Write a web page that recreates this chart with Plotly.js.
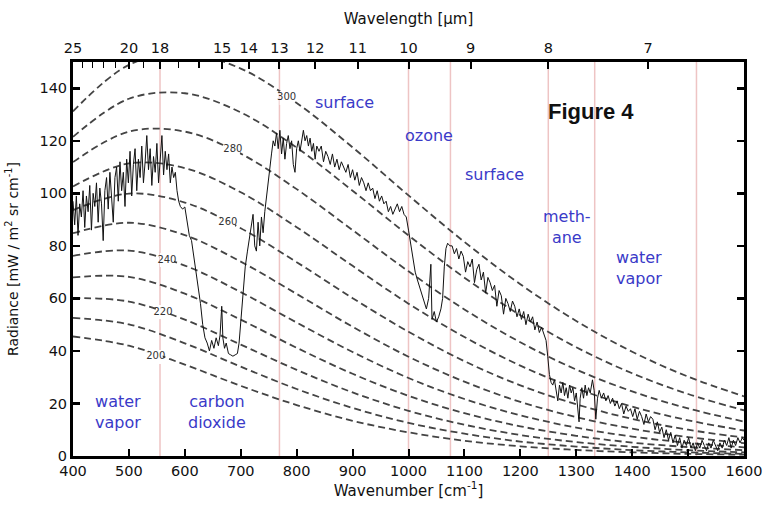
<!DOCTYPE html>
<html>
<head>
<meta charset="utf-8">
<script src="https://cdn.plot.ly/plotly-3.0.1.min.js"></script>
<style>html,body{margin:0;padding:0;background:#fff;}#chart{width:763px;height:516px;}</style>
</head>
<body>
<div id="chart"></div>
<script>
// ---- Planck (blackbody) reference curves ----
var planckWn = [400, 500, 600, 700, 800, 900, 1000, 1100, 1200, 1300, 1400, 1500, 1600];
var b300 = [131.2, 148.9, 153.4, 147.5, 134.4, 117.5, 99.2, 81.5, 65.4, 51.4, 39.7, 30.2, 22.7];
var b290 = [121.5, 136.0, 138.1, 130.8, 117.4, 101.0, 84.0, 67.9, 53.6, 41.4, 31.5, 23.6, 17.4];
var b280 = [111.9, 123.5, 123.5, 115.1, 101.6, 86.0, 70.3, 55.8, 43.3, 32.9, 24.6, 18.1, 13.1];
var b270 = [102.6, 111.4, 109.6, 100.4, 87.1, 72.4, 58.0, 45.3, 34.4, 25.7, 18.8, 13.6, 9.7];
var b260 = [93.6, 99.9, 96.5, 86.7, 73.8, 60.1, 47.3, 36.1, 26.9, 19.7, 14.1, 10.0, 7.0];
var b250 = [84.8, 88.8, 84.1, 74.0, 61.7, 49.2, 37.8, 28.3, 20.6, 14.8, 10.4, 7.2, 4.9];
var b240 = [76.2, 78.2, 72.5, 62.4, 50.8, 39.6, 29.7, 21.7, 15.5, 10.8, 7.4, 5.0, 3.3];
var b230 = [68.0, 68.2, 61.8, 51.9, 41.2, 31.3, 22.9, 16.3, 11.3, 7.7, 5.1, 3.4, 2.2];
var b220 = [60.1, 58.8, 51.9, 42.4, 32.8, 24.2, 17.2, 11.9, 8.0, 5.3, 3.5, 2.2, 1.4];
var b210 = [52.6, 50.1, 42.9, 34.0, 25.5, 18.3, 12.6, 8.5, 5.5, 3.6, 2.2, 1.4, 0.8];
var b200 = [45.5, 42.0, 34.8, 26.7, 19.4, 13.4, 9.0, 5.8, 3.7, 2.3, 1.4, 0.8, 0.5];
var planckCurves = [b200, b210, b220, b230, b240, b250, b260, b270, b280, b290, b300];

// temperature labels on curves
var tempLabels = ["300", "280", "260", "240", "220", "200"];
var tempLabelWn = [782, 686, 677, 568, 561, 548];
var tempLabelVal = [136.3, 116.5, 89, 74.6, 54.8, 37.7];

// ---- measured spectrum ----
var specWn = [400,403,406,409,412,415,418,421,424,427,430,433,436,439,442,445,448,451,454,457,460,463,466,469,472,475,478,481,484,487,490,493,496,499,502,505,508,511,514,517,520,523,526,529,532,535,538,541,544,547,550,553,556,559,562,565,568,571,574,577,580,583,586,589,592,596,600,604,608,612,616,620,624,628,632,636,640,644,648,652,656,660,663,666,668,671,674,678,682,686,690,694,697,700,704,708,712,716,719,722,725,728,731,734,737,740,743,746,749,752,755,758,761,764,767,770,773,776,779,782,785,788,791,794,797,800,803,806,809,812,815,818,821,824,827,830,833,836,840,844,848,852,856,860,864,868,872,876,880,884,888,892,896,900,904,908,912,916,920,924,928,932,936,940,944,948,952,956,960,964,968,972,976,980,984,988,992,996,1000,1004,1008,1012,1016,1020,1024,1028,1032,1036,1040,1042,1046,1050,1054,1058,1061,1064,1067,1070,1074,1078,1082,1086,1090,1094,1098,1102,1106,1110,1114,1118,1122,1126,1130,1134,1138,1142,1146,1150,1154,1158,1162,1166,1170,1174,1178,1182,1186,1190,1194,1198,1202,1206,1210,1214,1218,1222,1226,1230,1234,1238,1242,1246,1249,1252,1255,1258,1261,1264,1267,1270,1273,1276,1279,1282,1285,1288,1291,1294,1297,1300,1303,1305,1307,1310,1313,1316,1319,1322,1325,1329,1332,1335,1338,1341,1345,1349,1353,1357,1361,1365,1369,1373,1377,1381,1385,1389,1393,1397,1401,1405,1409,1413,1417,1421,1425,1429,1433,1437,1441,1445,1449,1453,1457,1461,1465,1469,1473,1477,1481,1485,1489,1493,1497,1501,1505,1509,1513,1517,1521,1525,1529,1533,1537,1541,1545,1549,1553,1557,1561,1565,1569,1573,1577,1581,1585,1589,1593,1597,1600];
var specVal = [97,88,99,84,96,91,101,87,99,93,103,86,100,95,104,89,102,96,82,101,106,94,108,99,89,106,110,97,112,101,108,95,113,104,116,99,111,117,101,113,106,118,104,112,122,109,117,103,114,108,119,104,113,122,107,116,109,115,104,110,106,108,101,97,95,94,94.8,90,84,82,76,70,63,58,50,45,43,40,44,41,45,42,46,57,45,41,43,39,38.5,38,38.5,39,43,52,62,72,78,84,88,92,80,78,89,80,91,85,93,99,104,109,115,120,118,123,117,124,115,121,113,119,122,117,120,111,108,117,120,116,121,124,120,122,118,121,116,119,113,118,116,118,112,116,114,111,115,110,113,109,112,110,108,111,106,109,105,108,103,106,104,101,104,101,102,98,101,97,99,96,97,93,95,92,94,96,93,95,92,91,86,80,74,70,67,64,62,58,56,60,73,52,55,51,53,56,60,72,79,81,80,80,77,79,75,78,76,70,74,72,75,66,71,73,67,70,62,68,66,63,65,57,63,61,54,60,58,55,59,57,53,56,52,55,50,54,51,53,48,51,47,49,46,44,38,31,28,27,29,25,21,27,24,28,23,26,22,27,24,26,21,24,18,13,22,26,22,27,23,26,24,29,25,14,22,25,22,24,21,23,20,22,19,21,18,20,16,19,17,18,15,18,14,17,15,12,16,13,15,14,10,13,9,11,7,10,6,9,5,8,4,7,3,6,4,7,3,5,2,5,3,6,4,2,5,3,6,4,2,5,3,6,4,7,3,6,4,7,5,7,6];

// ---- absorption band edges (pink vertical lines) ----
var bandEdges = [555.6, 769.2, 1000, 1075, 1250, 1333, 1515];

// ---- axes ticks ----
var bottomTicks = [400, 500, 600, 700, 800, 900, 1000, 1100, 1200, 1300, 1400, 1500, 1600];
var yTicks = [0, 20, 40, 60, 80, 100, 120, 140];
var wavelengthLabels = [25, 20, 18, 15, 14, 13, 12, 11, 10, 9, 8, 7];
var wavelengthMinor = [24, 23, 22, 21, 19, 17, 16];

// ---- region labels ----
var regionText = ["surface", "ozone", "surface", "meth-<br>ane", "water<br>vapor", "water<br>vapor", "carbon<br>dioxide"];
var regionWn = [886, 1037, 1154, 1284, 1412, 480, 657];
var regionVal = [134.4, 122.2, 107.3, 87.2, 71.6, 16.7, 16.7];

var FONT = 'DejaVu Sans, Verdana, sans-serif';
var toWn = function (l) { return 10000 / l; };

var traces = [];
planckCurves.forEach(function (c) {
  traces.push({
    x: planckWn, y: c, type: 'scatter', mode: 'lines',
    line: {color: '#444', width: 1.8, dash: '7px,4px', shape: 'spline', smoothing: 1},
    hoverinfo: 'skip', showlegend: false
  });
});
traces.push({
  x: specWn, y: specVal, type: 'scatter', mode: 'lines',
  line: {color: '#111', width: 1}, showlegend: false
});
// temperature labels drawn as a text trace (white halo breaks the dashes like the original)
traces.push({
  x: tempLabelWn, y: tempLabelVal, type: 'scatter', mode: 'markers+text',
  text: tempLabels, textposition: 'middle center',
  textfont: {size: 10, color: '#333', family: FONT},
  marker: {symbol: 'square', size: 14, color: '#fff', line: {width: 0}},
  hoverinfo: 'skip', showlegend: false
});
// helper trace to attach the top (wavelength) axis
traces.push({
  x: [bottomTicks[0], bottomTicks[bottomTicks.length - 1]], y: [0, 0],
  xaxis: 'x2', type: 'scatter', mode: 'lines', line: {width: 0, color: 'rgba(0,0,0,0)'},
  hoverinfo: 'skip', showlegend: false
});

var shapes = bandEdges.map(function (w) {
  return {type: 'line', xref: 'x', yref: 'paper', x0: w, x1: w, y0: 0, y1: 1,
    line: {color: '#eec4c4', width: 1.5}, layer: 'below'};
});

var annotations = [];
regionText.forEach(function (t, i) {
  annotations.push({x: regionWn[i], y: regionVal[i], xref: 'x', yref: 'y', text: t,
    showarrow: false, font: {size: 16, color: '#3a3ac8', family: FONT}});
});
annotations.push({x: 1327, y: 131, xref: 'x', yref: 'y', text: '<b>Figure 4</b>', showarrow: false,
  font: {size: 22, color: '#111', family: 'Liberation Sans, Arial, sans-serif'}});

var layout = {
  width: 763, height: 516,
  margin: {l: 73, r: 19, t: 62, b: 60},
  paper_bgcolor: '#fff', plot_bgcolor: '#fff',
  font: {family: FONT, size: 14, color: '#111'},
  showlegend: false,
  xaxis: {
    range: [400, 1600], tickvals: bottomTicks, ticks: 'inside', ticklen: 7, tickwidth: 2,
    tickcolor: '#000', showline: true, linecolor: '#000', linewidth: 3, mirror: true,
    showgrid: false, zeroline: false, tickfont: {size: 14.5, family: FONT},
    title: {text: 'Wavenumber [cm<sup>-1</sup>]', font: {size: 15, family: FONT}, standoff: 5}
  },
  xaxis2: {
    overlaying: 'x', side: 'top', range: [400, 1600],
    tickmode: 'array', tickvals: wavelengthLabels.map(toWn), ticktext: wavelengthLabels.map(String),
    ticks: 'inside', ticklen: 7, tickwidth: 2, tickcolor: '#000',
    minor: {tickmode: 'array', tickvals: wavelengthMinor.map(toWn), ticks: 'inside', ticklen: 6, tickwidth: 1.5, tickcolor: '#000', showgrid: false},
    showline: true, linecolor: '#000', linewidth: 3, showgrid: false, zeroline: false,
    tickfont: {size: 14.5, family: FONT},
    title: {text: 'Wavelength [\u03bcm]', font: {size: 15, family: FONT}, standoff: 12}
  },
  yaxis: {
    range: [0, 150], tickvals: yTicks, ticks: 'inside', ticklen: 7, tickwidth: 2.5,
    tickcolor: '#000', showline: true, linecolor: '#000', linewidth: 3, mirror: 'ticks',
    showgrid: false, zeroline: false, tickfont: {size: 14.5, family: FONT},
    title: {text: 'Radiance [mW / m<sup>2</sup> sr cm<sup>-1</sup>]', font: {size: 14, family: FONT}, standoff: 18}
  },
  shapes: shapes,
  annotations: annotations
};

Plotly.newPlot('chart', traces, layout, {displayModeBar: false, staticPlot: true});
</script>
</body>
</html>
